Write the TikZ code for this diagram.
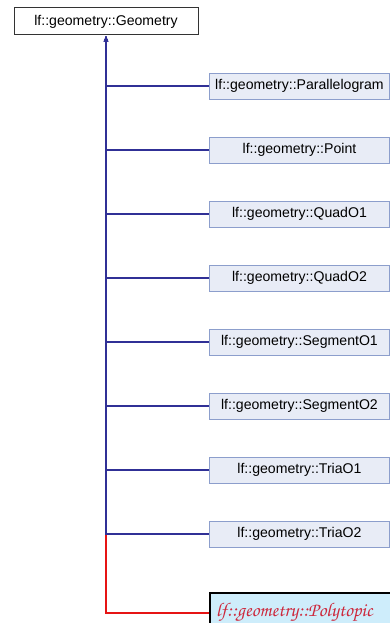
\documentclass[tikz,border=0pt]{standalone}
\usepackage[T1]{fontenc}
\usepackage{fontspec}
\setmainfont{Liberation Sans}
\usetikzlibrary{arrows.meta}
\definecolor{edgeblue}{RGB}{48,48,150}
\definecolor{edgered}{RGB}{230,20,20}
\definecolor{boxfill}{RGB}{232,236,246}
\definecolor{boxline}{RGB}{140,158,204}
\definecolor{polyfill}{RGB}{206,237,251}
\definecolor{polytext}{RGB}{205,40,60}
\newcommand{\scriptface}{\fontencoding{T1}\fontfamily{pzc}\fontseries{m}\fontshape{it}\selectfont}
\tikzset{
  classbox/.style={draw=boxline, fill=boxfill, line width=0.9pt, minimum width=180pt, minimum height=26pt, inner sep=0pt, anchor=west, font=\fontsize{14.1}{16}\selectfont},
  basebox/.style={draw=black!80, fill=white, line width=1pt, minimum width=184pt, minimum height=27pt, inner sep=0pt, font=\fontsize{14.1}{16}\selectfont},
  inherit/.style={edgeblue, line width=1.3pt, -{Latex[length=6pt,width=5pt]}},
}
\begin{document}
\begin{tikzpicture}[x=1pt, y=-1pt]
  \useasboundingbox (0,0) rectangle (390,623);
  \clip (0,0) rectangle (390,623);
  \node[basebox] (geom) at (106,21.5) {lf::geometry::Geometry};
  % derived classes
  \node[classbox] (para) at (209,86) {lf::geometry::Parallelogram};
  \node[classbox] (point) at (209,150) {lf::geometry::Point};
  \node[classbox] (quad1) at (209,214) {lf::geometry::QuadO1};
  \node[classbox] (quad2) at (209,278) {lf::geometry::QuadO2};
  \node[classbox] (seg1) at (209,342) {lf::geometry::SegmentO1};
  \node[classbox] (seg2) at (209,406) {lf::geometry::SegmentO2};
  \node[classbox] (tria1) at (209,470) {lf::geometry::TriaO1};
  \node[classbox] (tria2) at (209,534) {lf::geometry::TriaO2};
  \node[draw=black, fill=polyfill, line width=2pt, text width=220pt, align=left, minimum height=40pt, anchor=west, inner xsep=6pt, inner ysep=0pt, text=polytext] (poly) at (209,613)
    {\raisebox{5pt}{\scriptface\fontsize{19.5}{22}\selectfont lf::geometry::Polytopic}};
  % red edge stops where the blue trunk takes over
  \coordinate (fork) at (geom.south |- tria2.west);
  \draw[edgered, line width=1.3pt] (poly.west) -| (fork);
  \foreach \c in {para,point,quad1,quad2,seg1,seg2,tria1,tria2}
    \draw[inherit] (\c.west) -| (geom.south);
\end{tikzpicture}
\end{document}
